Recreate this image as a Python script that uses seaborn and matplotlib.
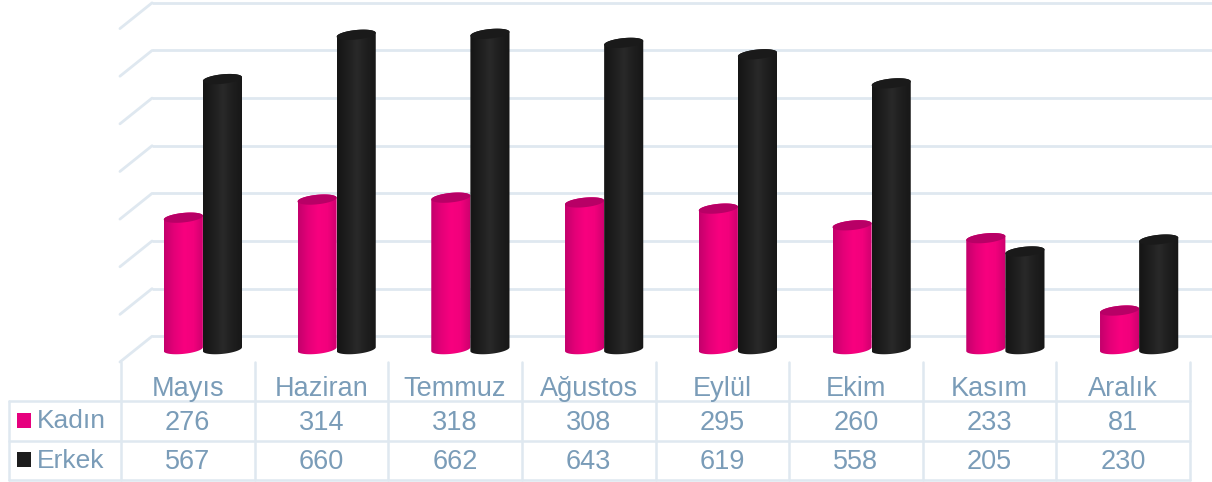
import numpy as np
import pandas as pd
import seaborn as sns
import matplotlib.pyplot as plt
from matplotlib.colors import LinearSegmentedColormap
from matplotlib.patches import Polygon, Rectangle
from matplotlib.path import Path

months = ["Mayıs", "Haziran", "Temmuz", "Ağustos", "Eylül", "Ekim", "Kasım", "Aralık"]
kadin = [276, 314, 318, 308, 295, 260, 233, 81]
erkek = [567, 660, 662, 643, 619, 558, 205, 230]
grid_values = [0, 100, 200, 300, 400, 500, 600, 700]

PINK = "#e6007e"
BLACK = "#1d1d1d"
GRID = "#dfe8f0"
TEXT = "#7a9cb8"
W, H = 1212, 482

sns.set_theme(style="white")
plt.rcParams["font.family"] = ["Liberation Sans", "DejaVu Sans"]

df = pd.DataFrame({
    "ay": months * 2,
    "deger": kadin + erkek,
    "cins": ["Kadın"] * len(months) + ["Erkek"] * len(months),
})

fig = plt.figure(figsize=(W / 100, H / 100), dpi=100, facecolor="white")

# bars axes sits a bit to the right of the table, the 3D look pushes the bars back
ax = fig.add_axes([136 / W, 1 - 362 / H, 1070 / W, 362 / H])
sns.barplot(data=df, x="ay", y="deger", hue="cins", palette=[PINK, BLACK],
            width=0.585, gap=0, legend=False, ax=ax)

depth_x, depth_y = 0.12, 27
for v in grid_values:
    ax.plot([-0.5 + depth_x, 7.55], [v + depth_y, v + depth_y], color=GRID, lw=2,
            clip_on=False, zorder=0, solid_capstyle="butt")
    ax.plot([-0.5 - depth_x, -0.5 + depth_x], [v - depth_y, v + depth_y], color=GRID, lw=2,
            clip_on=False, zorder=0)

pink_map = LinearSegmentedColormap.from_list("p", ["#c4006c", "#e40078", "#f8007f", "#f2007c", "#cc006e"])
black_map = LinearSegmentedColormap.from_list("b", ["#151515", "#1e1e1e", "#292929", "#1e1e1e", "#171717"])
gradient = np.linspace(0, 1, 64).reshape(1, -1)

# each seaborn bar gets a cylinder on top of it
t = np.linspace(0, 2 * np.pi, 80)
ry, tilt = 10, 4.0
for i, bar in enumerate(ax.patches):
    x0, w, top = bar.get_x(), bar.get_width(), bar.get_height()
    bar.set_alpha(0)
    cx = x0 + w / 2
    ex = cx + w / 2 * np.cos(t)
    low = t[(t >= np.pi)]
    up = t[(t <= np.pi)]
    bottom_x = cx + w / 2 * np.cos(low)
    bottom_y = ry * np.sin(low) + tilt * np.cos(low)
    top_x = cx + w / 2 * np.cos(up)
    top_y = top + ry * np.sin(up) + tilt * np.cos(up)
    outline = np.column_stack([np.r_[bottom_x, top_x], np.r_[bottom_y, top_y]])
    is_pink = i < len(months)
    z = 2 + i / 100 + (2 if not is_pink else 0)
    im = ax.imshow(gradient, cmap=pink_map if is_pink else black_map, aspect="auto",
                   extent=(x0, x0 + w, -20, top + 20), zorder=z)
    im.set_clip_path(Path(np.r_[outline, outline[:1]], closed=True), ax.transData)
    ey = top + ry * np.sin(t) + tilt * np.cos(t)
    ax.add_patch(Polygon(np.column_stack([ex, ey]), closed=True, lw=0, zorder=z + 0.001,
                         facecolor="#b80066" if is_pink else "#1a1a1a"))

ax.set_xlim(-0.5, 7.5)
ax.set_ylim(-27, 733)
ax.set_axis_off()

# table under the chart
tb = fig.add_axes([121 / W, 1 - 480 / H, 1069 / W, 118 / H])
tb.set_xlim(-0.5, 7.5)
tb.set_ylim(3, 0)
tb.set_axis_off()

left = -0.5 - 112 / 133.6
for k in range(len(months) + 1):
    tb.plot([k - 0.5, k - 0.5], [0, 3], color=GRID, lw=1.8, clip_on=False)
tb.plot([left, left], [1, 3], color=GRID, lw=1.8, clip_on=False)
for r in [1, 2, 3]:
    tb.plot([left, 7.5], [r, r], color=GRID, lw=1.8, clip_on=False)

for i, m in enumerate(months):
    tb.text(i, 0.69, m, color=TEXT, fontsize=19.5, ha="center", va="center")
    tb.text(i, 1.54, str(kadin[i]), color=TEXT, fontsize=19.5, ha="center", va="center")
    tb.text(i, 2.53, str(erkek[i]), color=TEXT, fontsize=19.5, ha="center", va="center")

for r, name, col in [(1, "Kadın", PINK), (2, "Erkek", BLACK)]:
    tb.add_patch(Rectangle((left + 0.06, r + 0.3), 0.105, 0.37, facecolor=col, lw=0, clip_on=False))
    tb.text(left + 0.21, r + 0.51, name, color=TEXT, fontsize=19, ha="left", va="center")

fig.savefig("out.png", dpi=100)
